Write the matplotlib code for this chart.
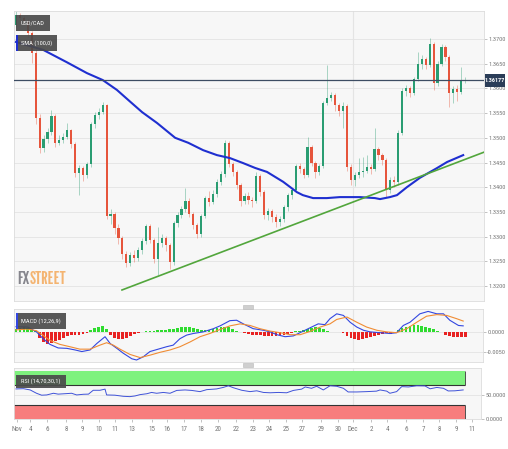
import matplotlib
matplotlib.use("Agg")
import matplotlib.pyplot as plt
import numpy as np
from matplotlib import font_manager as fm
from matplotlib.patches import Rectangle

# USD/CAD 4h candles (open of first bar, then close/high/low per bar)
first_open = 1.3728
close = [1.3748, 1.3742, 1.3736, 1.3712, 1.3672, 1.3540, 1.3480, 1.3498, 1.3512, 1.3545,
         1.3490, 1.3496, 1.3502, 1.3515, 1.3488, 1.3428, 1.3438, 1.3424, 1.3446, 1.3528,
         1.3546, 1.3552, 1.3566, 1.3342, 1.3346, 1.3318, 1.3298, 1.3264, 1.3246, 1.3262,
         1.3256, 1.3272, 1.3292, 1.3322, 1.3294, 1.3254, 1.3288, 1.3298, 1.3284, 1.3248,
         1.3328, 1.3344, 1.3356, 1.3372, 1.3346, 1.3324, 1.3306, 1.3342, 1.3378, 1.3370,
         1.3386, 1.3410, 1.3426, 1.3490, 1.3448, 1.3430, 1.3404, 1.3372, 1.3382, 1.3374,
         1.3372, 1.3422, 1.3390, 1.3344, 1.3352, 1.3340, 1.3330, 1.3336, 1.3360, 1.3384,
         1.3394, 1.3442, 1.3436, 1.3424, 1.3482, 1.3450, 1.3430, 1.3442, 1.3570, 1.3580,
         1.3586, 1.3566, 1.3554, 1.3564, 1.3440, 1.3414, 1.3424, 1.3430, 1.3432, 1.3440,
         1.3436, 1.3478, 1.3466, 1.3456, 1.3394, 1.3414, 1.3410, 1.3510, 1.3594, 1.3600,
         1.3590, 1.3620, 1.3650, 1.3660, 1.3648, 1.3690, 1.3610, 1.3650, 1.3684, 1.3664,
         1.3590, 1.3598, 1.3592, 1.3615, 1.3618]
high = [1.3757, 1.3752, 1.3746, 1.3740, 1.3716, 1.3680, 1.3548, 1.3505, 1.3520, 1.3556,
        1.3548, 1.3505, 1.3510, 1.3530, 1.3518, 1.3492, 1.3445, 1.3442, 1.3452, 1.3532,
        1.3552, 1.3560, 1.3572, 1.3568, 1.3356, 1.3350, 1.3325, 1.3302, 1.3270, 1.3268,
        1.3272, 1.3280, 1.3298, 1.3326, 1.3325, 1.3298, 1.3320, 1.3305, 1.3302, 1.3288,
        1.3332, 1.3350, 1.3362, 1.3399, 1.3378, 1.3350, 1.3328, 1.3346, 1.3382, 1.3392,
        1.3395, 1.3416, 1.3432, 1.3495, 1.3494, 1.3452, 1.3434, 1.3408, 1.3388, 1.3390,
        1.3380, 1.3430, 1.3426, 1.3394, 1.3358, 1.3356, 1.3345, 1.3342, 1.3364, 1.3388,
        1.3398, 1.3446, 1.3450, 1.3440, 1.3502, 1.3486, 1.3454, 1.3448, 1.3574, 1.3647,
        1.3592, 1.3590, 1.3570, 1.3572, 1.3568, 1.3446, 1.3430, 1.3460, 1.3462, 1.3466,
        1.3448, 1.3520, 1.3482, 1.3470, 1.3460, 1.3420, 1.3422, 1.3516, 1.3600, 1.3606,
        1.3604, 1.3624, 1.3674, 1.3668, 1.3664, 1.3702, 1.3694, 1.3656, 1.3690, 1.3688,
        1.3668, 1.3604, 1.3606, 1.3643, 1.3624]
low = [1.3725, 1.3733, 1.3728, 1.3705, 1.3652, 1.3528, 1.3470, 1.3472, 1.3490, 1.3505,
       1.3482, 1.3485, 1.3490, 1.3498, 1.3480, 1.3420, 1.3385, 1.3412, 1.3418, 1.3440,
       1.3520, 1.3538, 1.3548, 1.3335, 1.3325, 1.3305, 1.3285, 1.3255, 1.3238, 1.3240,
       1.3248, 1.3250, 1.3265, 1.3285, 1.3288, 1.3246, 1.3222, 1.3280, 1.3270, 1.3235,
       1.3242, 1.3320, 1.3338, 1.3350, 1.3340, 1.3315, 1.3298, 1.3300, 1.3338, 1.3362,
       1.3366, 1.3380, 1.3404, 1.3420, 1.3440, 1.3422, 1.3396, 1.3362, 1.3366, 1.3366,
       1.3360, 1.3368, 1.3382, 1.3336, 1.3334, 1.3330, 1.3320, 1.3322, 1.3330, 1.3352,
       1.3376, 1.3390, 1.3428, 1.3418, 1.3420, 1.3442, 1.3418, 1.3425, 1.3438, 1.3566,
       1.3574, 1.3555, 1.3545, 1.3520, 1.3432, 1.3405, 1.3402, 1.3418, 1.3420, 1.3428,
       1.3426, 1.3432, 1.3455, 1.3444, 1.3380, 1.3388, 1.3400, 1.3404, 1.3506, 1.3585,
       1.3582, 1.3586, 1.3614, 1.3640, 1.3640, 1.3644, 1.3596, 1.3604, 1.3645, 1.3655,
       1.3562, 1.3570, 1.3575, 1.3588, 1.3610]

sma_x = [0, 6.9, 12.9, 18.0, 22.0, 25.6, 29.0, 32.0, 35.8, 40.4, 43.7, 47.5, 51.0, 54.3,
         57.6, 60.7, 63.7, 67.8, 71.3, 72.8, 75.4, 78.9, 82.2, 87.3, 91.1, 92.4, 94.9,
         96.7, 99.2, 102.5, 106.9, 109.4, 113.5]
sma_v = [1.3694, 1.3678, 1.3653, 1.3631, 1.3617, 1.3597, 1.3573, 1.3552, 1.3530, 1.3500,
         1.3490, 1.3475, 1.3465, 1.3459, 1.3449, 1.3439, 1.3431, 1.3411, 1.3390, 1.3384,
         1.3378, 1.3378, 1.3380, 1.3380, 1.3378, 1.3376, 1.3380, 1.3384, 1.3400, 1.3419,
         1.3439, 1.3451, 1.3465]

trend_x = [26.9, 118.8]
trend_v = [1.3192, 1.3471]

last_price = 1.36177
price_ticks = [1.3200, 1.3250, 1.3300, 1.3350, 1.3400, 1.3450, 1.3500, 1.3550, 1.3600,
               1.3650, 1.3700]

macd_x = [0, 3, 5.2, 6.9, 8.6, 10.7, 12.9, 15.0, 16.7, 18.8, 20.5, 22.6, 23.9, 25.6, 27.2,
          29.4, 30.6, 32.3, 34.0, 36.1, 38.2, 39.9, 41.6, 43.3, 45.0, 47.5, 50.1, 51.8,
          54.3, 56.0, 57.7, 60.2, 62.8, 64.5, 66.2, 68.3, 70.4, 72.5, 74.6, 76.7, 78.4,
          79.7, 81.4, 83.1, 84.8, 86.5, 88.2, 89.9, 92.4, 94.9, 96.6, 98.3, 100.0, 102.5,
          104.6, 106.8, 108.5, 110.1, 112.3, 113.5]
macd_v = [0.0014, 0.0013, 0.0001, -0.0016, -0.0030, -0.0039, -0.0040, -0.0044, -0.0048,
          -0.0044, -0.0028, -0.0011, -0.0028, -0.0040, -0.0052, -0.0066, -0.0069, -0.0061,
          -0.0048, -0.0042, -0.0036, -0.0032, -0.0016, -0.0007, -0.0003, 0.0001, 0.0009,
          0.0016, 0.0029, 0.0030, 0.0021, 0.0009, 0.0005, 0.0001, -0.0006, -0.0011, -0.0009,
          0.0001, 0.0011, 0.0021, 0.0019, 0.0034, 0.0046, 0.0042, 0.0025, 0.0013, 0.0005,
          0.0001, -0.0001, -0.0003, -0.0001, 0.0017, 0.0025, 0.0046, 0.0052, 0.0046, 0.0046,
          0.0030, 0.0017, 0.0016]
sig_x = [0, 3, 5.2, 8.6, 11.1, 13.7, 16.2, 18.8, 21.3, 23.0, 24.7, 26.4, 28.9, 31.5, 34.0,
         36.5, 39.1, 41.6, 44.2, 46.7, 49.2, 51.8, 54.3, 56.9, 59.4, 61.9, 64.5, 67.0, 69.6,
         72.1, 74.6, 77.2, 79.7, 81.4, 84.0, 86.5, 89.0, 91.6, 94.1, 96.6, 99.2, 101.7,
         104.2, 106.8, 109.3, 111.8, 113.5]
sig_v = [0.0006, 0.0008, 0.0004, -0.0020, -0.0030, -0.0036, -0.0042, -0.0042, -0.0032,
         -0.0026, -0.0032, -0.0042, -0.0055, -0.0063, -0.0057, -0.0050, -0.0044, -0.0036,
         -0.0024, -0.0011, -0.0003, 0.0007, 0.0016, 0.0021, 0.0017, 0.0009, 0.0003, -0.0001,
         -0.0006, -0.0006, 0.0002, 0.0013, 0.0021, 0.0032, 0.0038, 0.0025, 0.0013, 0.0005,
         0.0001, -0.0001, 0.0009, 0.0025, 0.0040, 0.0044, 0.0042, 0.0034, 0.0028]
# histogram per bar, in 1e-4
hist = [8, 10, 12, 11, 9, 3, -15, -25, -28, -26, -22, -18, -14, -10, -8, -7, -6, -5, -3,
        6, 10, 13, 16, 8, -8, -14, -17, -16, -13, -9, -5, -2, 1, 3, 4, 4, 5, 6, 6, 7, 8,
        10, 12, 13, 12, 10, 8, 6, 5, 6, 8, 10, 12, 14, 12, 8, 4, 1, -3, -5, -6, -7, -8, -9,
        -10, -10, -9, -8, -6, -4, -1, 2, 4, 6, 9, 11, 12, 10, 8, 3, 1, 1, 0.5, -2, -10, -15,
        -17, -18, -17, -15, -12, -9, -6, -4, -3, -5, -2, 5, 10, 14, 16, 18, 18, 16, 14, 11,
        8, 4, 1, -6, -10, -12, -12, -11, -11]

rsi_x = [0, 1.9, 3.6, 5.2, 6.5, 7.8, 9.5, 10.7, 12.9, 14.1, 15.4, 17.1, 18.4, 19.6, 21.3,
         22.6, 23.0, 25.1, 27.2, 28.9, 30.2, 31.5, 33.2, 34.4, 35.7, 37.4, 39.1, 40.8, 42.9,
         44.6, 46.7, 48.4, 50.9, 52.6, 53.9, 55.2, 57.3, 59.4, 61.1, 62.8, 64.5, 66.6, 68.7,
         70.4, 72.5, 73.4, 75.0, 76.3, 78.0, 79.7, 81.4, 83.1, 84.3, 86.5, 89.0, 91.5, 92.4,
         94.1, 94.9, 96.6, 97.9, 99.6, 101.7, 103.8, 105.1, 106.8, 108.5, 109.7, 111.4, 113.5]
rsi_v = [62.5, 63, 60.4, 53.5, 49.5, 50, 53.5, 51.7, 52.8, 53.5, 50, 51.4, 51.7, 59.7, 59.7,
         62.1, 50, 49.5, 47.2, 46.5, 47.9, 50.7, 52.5, 55.2, 53.5, 55.2, 53.5, 59.4, 60.4,
         59.4, 56.9, 61, 62.5, 65.6, 69, 64.9, 59.7, 56.9, 58.6, 55.2, 54.5, 55.2, 54.5, 59.4,
         62.1, 66.6, 63.8, 68, 60.4, 69, 68, 63.8, 56.2, 56.2, 56.9, 57.9, 60.4, 57.9, 53.5,
         56.9, 67.3, 66.6, 69, 68.7, 62.8, 65.6, 63.8, 58.3, 58.6, 60.4]

tick_lab = ['Nov', '4', '6', '8', '9', '10', '11', '13', '15', '16', '17', '18', '20', '22',
            '23', '24', '25', '27', '29', '30', 'Dec', '2', '4', '6', '7', '8', '9', '11']
tick_pos = [0.3, 3.6, 7.9, 12.7, 16.8, 21.1, 25.1, 29.4, 34.5, 38.3, 42.6, 47.0, 51.3, 55.8,
            60.2, 64.2, 68.5, 72.6, 77.4, 81.7, 85.5, 90.1, 94.2, 99.0, 103.3, 107.4, 111.7,
            115.7]

GREEN = '#2a9d72'
RED = '#e6553c'
W, H = 508, 449
STEP = 3.94  # px per bar

# condensed faces, like the chart's own labels
have = {f.name for f in fm.fontManager.ttflist}


def pick(cands):
    for c in cands:
        if c in have:
            return c
    return 'DejaVu Sans'


NARROW = pick(['Roboto Condensed', 'Liberation Sans Narrow', 'Arial Narrow', 'PT Sans Narrow',
               'Archivo Narrow', 'Barlow Condensed', 'Saira SemiCondensed',
               'Sofia Sans Condensed'])
LOGO = pick(['League Gothic', 'Pathway Gothic One', 'Sofia Sans Extra Condensed',
             'Saira ExtraCondensed', 'Oswald', 'Bebas Neue', 'Barlow Condensed', NARROW])
LAB = 4.6

fig = plt.figure(figsize=(W / 100, H / 100), dpi=100)
fig.patch.set_facecolor('white')


def px_axes(l, t, r, b):
    a = fig.add_axes([l / W, 1 - b / H, (r - l) / W, (b - t) / H])
    a.set_xlim((l - 16) / STEP, (r - 16) / STEP)
    return a


ax = px_axes(14, 11, 484, 301)
am = px_axes(14, 309, 483, 362)
ar = px_axes(14, 368, 481, 419)

n = len(close)
idx = np.arange(n)
for a in (ax, am, ar):
    a.set_facecolor('#f7f7f7')
    for s in a.spines.values():
        s.set_color('#dcdcdc')
        s.set_linewidth(0.6)
    a.yaxis.tick_right()
    a.tick_params(axis='y', length=2, width=0.5, color='#aaaaaa', pad=1,
                  labelcolor='#777777')
    a.axvline(tick_pos[tick_lab.index('Dec')], color='#e4e4e4', lw=0.8, zorder=0)

# main price panel
c = np.array(close)
o = np.r_[first_open, c[:-1]]
cols = np.where(c >= o, GREEN, RED)
ax.set_ylim(1.31697, 1.37567)
ax.set_yticks(price_ticks)
ax.set_yticklabels(['%.4f' % p for p in price_ticks], family=NARROW, fontsize=LAB)
ax.set_xticks([])
for p in price_ticks:
    ax.axhline(p, color='#e3e3e3', lw=0.6, zorder=0)
ax.vlines(idx, low, high, colors=cols, lw=0.6, alpha=0.45, zorder=2)
ax.bar(idx, np.maximum(np.abs(c - o), 0.00005), bottom=np.minimum(o, c), width=0.55,
       color=cols, zorder=3)
ax.plot(sma_x, sma_v, color='#1f2fd0', lw=1.5, zorder=4)
ax.plot(trend_x, trend_v, color='#52a63c', lw=1.2, zorder=4)
ax.axhline(last_price, color='#3d4d63', lw=0.9, zorder=5)

# MACD panel
am.set_ylim(-0.0074, 0.0058)
am.set_yticks([0, -0.005])
am.set_yticklabels(['0.0000', '-0.0050'], family=NARROW, fontsize=LAB)
am.set_xticks([])
for v in (0, -0.005):
    am.axhline(v, color='#e3e3e3', lw=0.6, zorder=0)
hv = np.array(hist) * 1e-4
am.bar(idx, hv, width=0.7, color=np.where(hv >= 0, '#2fdc2f', '#e82222'), zorder=2)
am.plot(macd_x, macd_v, color='#3347e0', lw=0.8, zorder=3)
am.plot(sig_x, sig_v, color='#f08c34', lw=0.8, zorder=3)

# RSI panel
ar.set_ylim(0, 106)
ar.set_yticks([50, 0])
ar.set_yticklabels(['50.0000', '0.0000'], family=NARROW, fontsize=LAB)
ar.axhline(50, color='#e3e3e3', lw=0.6, zorder=0)
x0 = (14 - 16) / STEP
ar.add_patch(Rectangle((x0, 70), n - 1 - x0, 30, facecolor='#7ef27e', edgecolor='none', zorder=1))
ar.add_patch(Rectangle((x0, 0), n - 1 - x0, 30, facecolor='#f77d7d', edgecolor='none', zorder=1))
ar.hlines([70, 30], x0, n - 1, color='#333333', lw=0.8, zorder=2)
ar.vlines(n - 1, 70, 100, color='#333333', lw=0.6, zorder=2)
ar.vlines(n - 1, 0, 30, color='#333333', lw=0.6, zorder=2)
ar.plot(rsi_x, rsi_v, color='#3f52d8', lw=0.7, zorder=3)
ar.set_xticks(tick_pos)
ar.set_xticklabels(tick_lab, family=NARROW, fontsize=5)
ar.tick_params(axis='x', length=2, width=0.5, color='#aaaaaa', pad=3, labelcolor='#777777')

rend = fig.canvas.get_renderer()


def box(l, t, b, text, stripe=None):
    # grey tag sized to its text
    tx = fig.text((l + 5) / W, 1 - (t + b) / 2 / H, text, color='white', va='center',
                  ha='left', family=NARROW, fontsize=LAB, zorder=12)
    r = l + 5 + tx.get_window_extent(rend).width + 5
    fig.add_artist(Rectangle((l / W, 1 - b / H), (r - l) / W, (b - t) / H,
                             transform=fig.transFigure, facecolor='#4a4a4a', alpha=0.92,
                             edgecolor='none', zorder=10))
    if stripe:
        fig.add_artist(Rectangle((l / W, 1 - b / H), 2 / W, (b - t) / H,
                                 transform=fig.transFigure, facecolor=stripe,
                                 edgecolor='none', zorder=11))


box(16, 15, 31, 'USD/CAD')
box(16, 35, 51, 'SMA (100,0)', stripe='#1f2fd0')
box(16, 313, 329, 'MACD (12,26,9)', stripe='#3347e0')
box(16, 375, 388, 'RSI (14,70,30,1)')

# last price label
fig.add_artist(Rectangle((485 / W, 1 - 87 / H), 20 / W, 13 / H, transform=fig.transFigure,
                         facecolor='#2b3d58', edgecolor='none', zorder=10))
fig.text(495 / W, 1 - 80.5 / H, '%.5f' % last_price, color='white', ha='center',
         va='center', family=NARROW, fontsize=LAB - 0.2, fontweight='bold', zorder=12)

# panel separators
for y in (305, 363):
    fig.add_artist(Rectangle((243 / W, 1 - (y + 4) / H), 10 / W, 4 / H,
                             transform=fig.transFigure, facecolor='#cfcfcf',
                             edgecolor='#b8b8b8', lw=0.4, zorder=10))

# FXSTREET watermark, sized to the logo box (x 17..64, baseline y 284)
size = 20
t1 = fig.text(17 / W, 1 - 284 / H, 'FX', color='#7a7a82', family=LOGO, fontsize=size,
              va='baseline', ha='left', alpha=0.9, zorder=9)
t2 = fig.text(0, 1 - 284 / H, 'STREET', color='#f4ad62', family=LOGO, fontsize=size,
              va='baseline', ha='left', alpha=0.9, zorder=9)
wtot = t1.get_window_extent(rend).width + t2.get_window_extent(rend).width
if wtot > 49:
    size = size * 49 / wtot
    t1.set_fontsize(size)
    t2.set_fontsize(size)
t2.set_x((17 + t1.get_window_extent(rend).width) / W)

fig.savefig('out.png', dpi=100)
